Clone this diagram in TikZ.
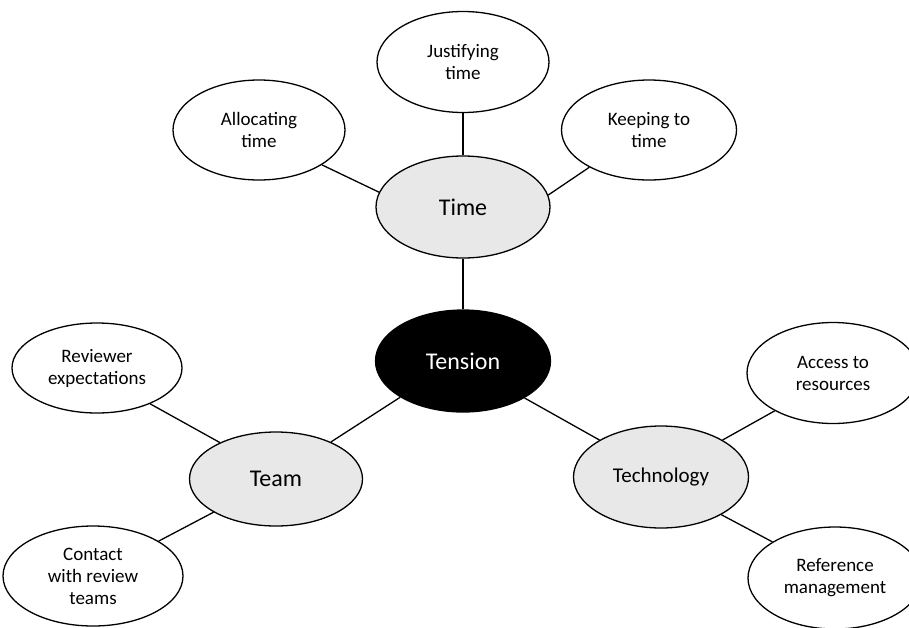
\documentclass[tikz,border=0pt]{standalone}
\usepackage{fontspec}
\setmainfont{Carlito}
\usetikzlibrary{shapes.geometric}
\definecolor{hubgray}{HTML}{E8E8E8}
\tikzset{
  bubble/.style={ellipse, draw=black, line width=1.3pt, fill=white, inner sep=0pt,
    align=center, font=\fontsize{19}{22}\selectfont},
  hub/.style={bubble, fill=hubgray, font=\fontsize{24}{28}\selectfont},
  core/.style={bubble, fill=black, text=white, font=\fontsize{24}{28}\selectfont},
  link/.style={draw=black, line width=1.3pt}
}
\begin{document}
\begin{tikzpicture}[x=1pt, y=-1pt]
\useasboundingbox (0,0) rectangle (909,627);
\fill[white] (0,0) rectangle (909,627);
\clip (0,0) rectangle (909,627);

% centre and the three themes
\node[core, minimum width=175pt, minimum height=102pt] (tension) at (463,361) {Tension};
\node[hub, minimum width=174pt, minimum height=102pt] (time) at (463,207) {Time};
\node[hub, minimum width=173pt, minimum height=94pt] (team) at (276,479) {Team};
\node[hub, minimum width=175pt, minimum height=102pt, font=\fontsize{21}{25}\selectfont] (tech) at (661,477) {Technology};

% sub-themes of time
\node[bubble, minimum width=172pt, minimum height=100pt] (alloc) at (259,130) {Allocating\\time};
\node[bubble, minimum width=172pt, minimum height=101pt] (justify) at (463,62) {Justifying\\time};
\node[bubble, minimum width=175pt, minimum height=100pt] (keep) at (649,130) {Keeping to\\time};

% sub-themes of team
\node[bubble, minimum width=170pt, minimum height=90pt] (reviewer) at (97,368) {Reviewer\\expectations};
\node[bubble, minimum width=180pt, minimum height=100pt] (contact) at (93,576) {Contact\\with review\\teams};

% sub-themes of technology
\node[bubble, minimum width=172pt, minimum height=101pt] (access) at (833,373) {Access to\\resources};
\node[bubble, minimum width=174pt, minimum height=102pt] (refman) at (835,578) {Reference\\management};

% connectors
\draw[link] (time.south) -- (tension.north);
\draw[link] (time.north) -- (justify.south);
\draw[link] (alloc.-29) -- (time.170);
\draw[link] (keep.212) -- (time.8);
\draw[link] (tension.210) -- (team.34);
\draw[link] (tension.-31) -- (tech.149);
\draw[link] (reviewer.-34) -- (team.147);
\draw[link] (team.208) -- (contact.28);
\draw[link] (tech.31) -- (access.213);
\draw[link] (tech.-32) -- (refman.150);
\end{tikzpicture}
\end{document}
